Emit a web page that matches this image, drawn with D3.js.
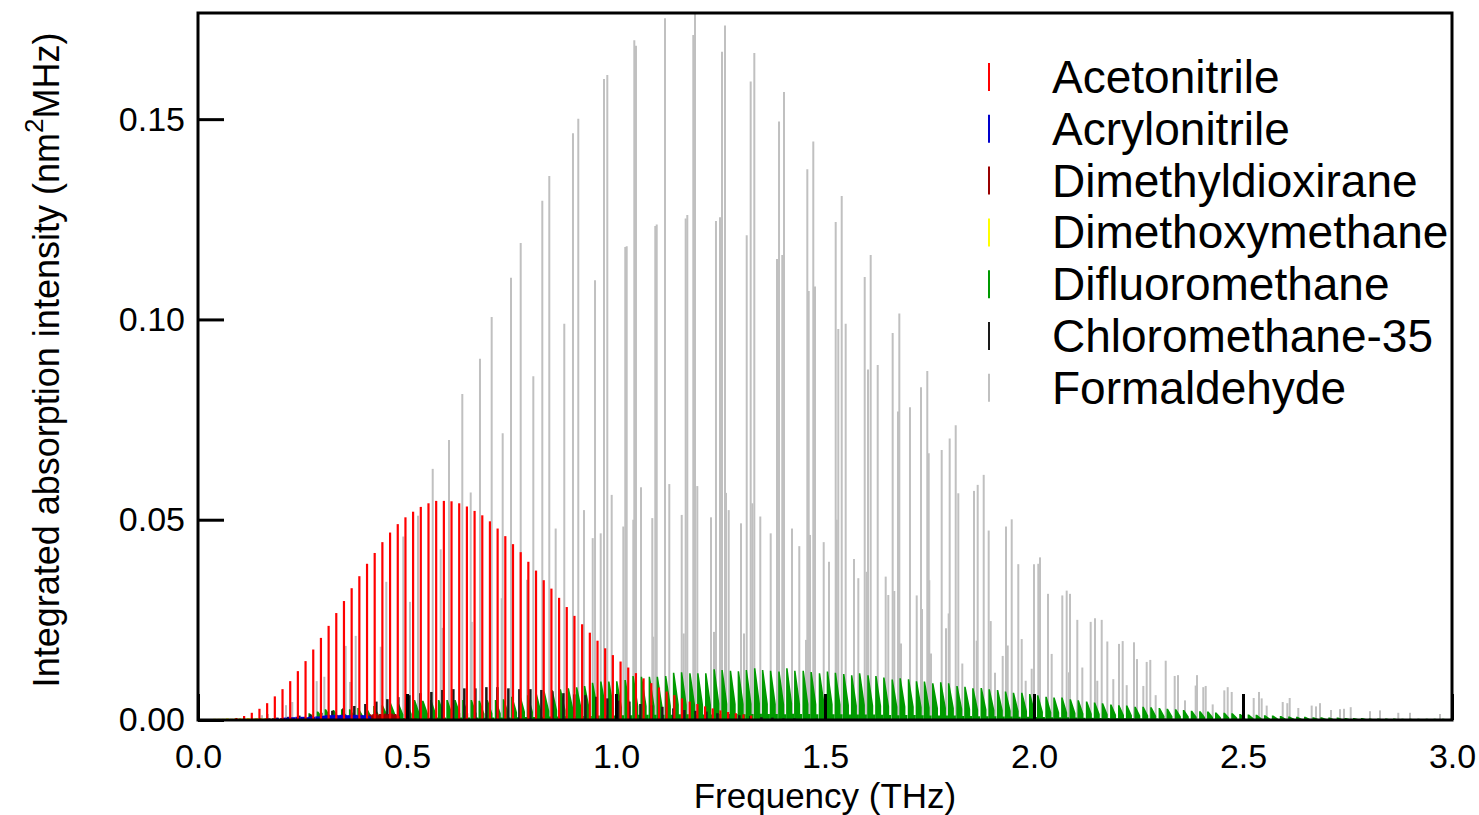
<!DOCTYPE html>
<html>
<head>
<meta charset="utf-8">
<script src="https://d3js.org/d3.v7.min.js"></script>
<style>
  body { margin: 0; background: #fff; }
  svg { display: block; font-family: "Liberation Sans", Arial, sans-serif; }
</style>
</head>
<body>
<div id="main"></div>
<script>
const ctx = {
    WIDTH: 1479,
    HEIGHT: 815,
    left: 198, right: 1452, top: 13, bottom: 720,
};

const xTicks = [0, 0.5, 1.0, 1.5, 2.0, 2.5, 3.0];
const yTicks = [0, 0.05, 0.10, 0.15];

const species = ["Acetonitrile", "Acrylonitrile", "Dimethyldioxirane", "Dimethoxymethane",
                 "Difluoromethane", "Chloromethane-35", "Formaldehyde"];
const speciesColors = ["#ff0000", "#0000cc", "#990000", "#ffff00", "#009900", "#1a1a1a", "#c0c0c0"];

// Acetonitrile (GHz, nm^2 MHz)
const acnFreq = [73.5, 91.9, 110.3, 128.7, 147.0, 165.4, 183.8, 202.2, 220.6, 238.9,
    257.3, 275.7, 294.1, 312.5, 330.8, 349.2, 367.6, 386.0, 404.4, 422.7,
    441.1, 459.5, 477.9, 496.3, 514.6, 533.0, 551.4, 569.8, 588.2, 606.5,
    624.9, 643.3, 661.7, 680.1, 698.4, 716.8, 735.2, 753.6, 772.0, 790.3,
    808.7, 827.1, 845.5, 863.9, 882.2, 900.6, 919.0, 937.4, 955.8, 974.1,
    992.5, 1010.9, 1029.3, 1047.7, 1066.0, 1084.4, 1102.8, 1121.2, 1139.6, 1157.9,
    1176.3, 1194.7, 1213.1, 1231.5, 1249.8, 1268.2, 1286.6, 1305.0, 1323.4];
const acnInt = [0.0002, 0.0005, 0.0010, 0.0018, 0.0028, 0.0042, 0.0059, 0.0077, 0.0097, 0.0122,
    0.0147, 0.0176, 0.0205, 0.0235, 0.0267, 0.0297, 0.0329, 0.0359, 0.0390, 0.0417,
    0.0444, 0.0468, 0.0489, 0.0506, 0.0520, 0.0532, 0.0541, 0.0547, 0.0547, 0.0546,
    0.0541, 0.0533, 0.0522, 0.0511, 0.0496, 0.0478, 0.0459, 0.0439, 0.0419, 0.0395,
    0.0373, 0.0349, 0.0328, 0.0305, 0.0282, 0.0260, 0.0239, 0.0218, 0.0198, 0.0179,
    0.0162, 0.0146, 0.0131, 0.0117, 0.0104, 0.0092, 0.0081, 0.0071, 0.0062, 0.0054,
    0.0046, 0.0040, 0.0034, 0.0029, 0.0024, 0.0020, 0.0017, 0.0014, 0.0011];

// Acrylonitrile (GHz)
const acrFreq = [90, 100, 110, 120, 130, 140, 150, 160, 170, 180, 190, 200, 206, 212, 218, 224,
    230, 236, 242, 248, 254, 260, 266, 272, 278, 284, 290, 296, 302, 307, 312, 317,
    322, 327, 332, 337, 342, 347, 352, 357, 362, 367, 372, 377, 382, 387, 392, 397, 402, 407, 411];
const acrInt = [0.0001, 0.0001, 0.0002, 0.0002, 0.0002, 0.0003, 0.0003, 0.0003, 0.0004, 0.0004, 0.0005, 0.0005, 0.0006, 0.0006, 0.0007, 0.0007,
    0.0007, 0.0008, 0.0007, 0.0008, 0.0008, 0.0007, 0.0008, 0.0009, 0.0008, 0.0009, 0.0009, 0.0010, 0.0011, 0.0012, 0.0011, 0.0012,
    0.0012, 0.0013, 0.0012, 0.0012, 0.0013, 0.0012, 0.0013, 0.0012, 0.0012, 0.0013, 0.0012, 0.0013, 0.0012, 0.0013, 0.0012, 0.0012, 0.0013, 0.0011, 0.0009];

// Dimethyldioxirane (GHz)
const dmdFreq = [412, 416, 420, 424, 428, 432, 436, 440, 444, 448, 452, 456, 460, 464, 468, 472, 476, 480,
    520, 585, 640, 700, 770, 850, 930, 1010, 1100, 1190, 1280];
const dmdInt = [0.0014, 0.0012, 0.0015, 0.0013, 0.0016, 0.0012, 0.0015, 0.0014, 0.0013, 0.0016, 0.0012, 0.0015, 0.0014, 0.0016, 0.0013, 0.0015, 0.0012, 0.0010,
    0.0004, 0.0003, 0.0005, 0.0004, 0.0003, 0.0004, 0.0003, 0.0003, 0.0003, 0.0002, 0.0002];

// Dimethoxymethane (GHz)
const dmmFreq = [20, 30, 40, 50, 60, 70, 80, 90, 100, 110, 120, 130, 140, 150, 160, 170, 180, 190,
    200, 210, 220, 230, 240, 250, 260, 270, 280, 290];
const dmmInt = [0.0002, 0.0002, 0.0003, 0.0003, 0.0003, 0.0004, 0.0003, 0.0004, 0.0004, 0.0004, 0.0005, 0.0004, 0.0005, 0.0005, 0.0004, 0.0005, 0.0005, 0.0004,
    0.0005, 0.0004, 0.0005, 0.0004, 0.0004, 0.0003, 0.0003, 0.0003, 0.0002, 0.0002];

// Difluoromethane band heads (GHz)
const dfmFreq = [264, 284, 303, 322, 342, 361, 381, 400, 419, 439, 458, 477, 497, 516, 536, 555, 574, 594,
    613, 632, 652, 671, 690, 710, 729, 749, 768, 787, 807, 826, 845, 865, 884, 904, 923, 942,
    962, 981, 1000, 1020, 1039, 1059, 1078, 1097, 1117, 1136, 1155, 1175, 1194, 1213, 1233, 1252,
    1272, 1291, 1310, 1330, 1349, 1368, 1388, 1407, 1426, 1446, 1465, 1485, 1504, 1523, 1543, 1562,
    1581, 1601, 1620, 1639, 1659, 1678, 1698, 1717, 1736, 1756, 1775, 1794, 1814, 1833, 1852, 1872,
    1891, 1911, 1930, 1949, 1969, 1988, 2007, 2027, 2046, 2065, 2085, 2104, 2124, 2143, 2162, 2182,
    2201, 2220, 2240, 2259, 2278, 2298, 2317, 2337, 2356, 2375, 2395, 2414, 2433, 2453, 2472, 2491,
    2511, 2530, 2550, 2569, 2588, 2608, 2627, 2646, 2666, 2685, 2704, 2724, 2743, 2763, 2782, 2801,
    2821, 2840, 2859, 2879, 2898, 2917, 2937, 2956, 2976, 2995];
const dfmInt = [0.0017, 0.0021, 0.0027, 0.0025, 0.0027, 0.0027, 0.0030, 0.0032, 0.0035, 0.0037, 0.0043, 0.0042, 0.0046, 0.0050, 0.0048, 0.0050, 0.0050, 0.0050,
    0.0050, 0.0050, 0.0050, 0.0048, 0.0050, 0.0050, 0.0052, 0.0058, 0.0062, 0.0062, 0.0067, 0.0071, 0.0075, 0.0077, 0.0079, 0.0082, 0.0085, 0.0093,
    0.0096, 0.0096, 0.0097, 0.0100, 0.0110, 0.0108, 0.0108, 0.0108, 0.0110, 0.0118, 0.0119, 0.0117, 0.0117, 0.0117, 0.0127, 0.0125,
    0.0123, 0.0122, 0.0125, 0.0129, 0.0125, 0.0123, 0.0121, 0.0129, 0.0123, 0.0123, 0.0120, 0.0117, 0.0121, 0.0118, 0.0115, 0.0112,
    0.0117, 0.0112, 0.0110, 0.0106, 0.0101, 0.0104, 0.0102, 0.0097, 0.0096, 0.0092, 0.0094, 0.0092, 0.0085, 0.0083, 0.0079, 0.0080,
    0.0077, 0.0075, 0.0071, 0.0068, 0.0068, 0.0065, 0.0062, 0.0058, 0.0056, 0.0056, 0.0052, 0.0049, 0.0046, 0.0044, 0.0042, 0.0039,
    0.0037, 0.0036, 0.0033, 0.0033, 0.0032, 0.0030, 0.0028, 0.0027, 0.0025, 0.0023, 0.0022, 0.0021, 0.0019, 0.0018, 0.0017, 0.0015,
    0.0014, 0.0013, 0.0012, 0.0011, 0.0010, 0.0009, 0.0008, 0.0008, 0.0007, 0.0007, 0.0006, 0.0006, 0.0005, 0.0005, 0.0005, 0.0004,
    0.0004, 0.0004, 0.0004, 0.0003, 0.0003, 0.0003, 0.0003, 0.0003, 0.0003, 0.0003];

// Chloromethane-35 (THz)
const cmFreq = [0.1108, 0.1372, 0.1635, 0.1898, 0.2161, 0.2424, 0.2688, 0.2951, 0.3214, 0.3477,
    0.3740, 0.4004, 0.4267, 0.4530, 0.4793, 0.5056, 0.5320, 0.5583, 0.5846, 0.6109,
    0.6372, 0.6636, 0.6899, 0.7162, 0.7425, 0.7688, 0.7952, 0.8215, 0.8478, 0.8741,
    0.9004, 0.9268, 0.9531, 0.9794, 1.0057, 1.0320, 1.0584, 1.0847, 1.1110, 1.1373,
    1.1636, 1.1900, 1.2163, 1.2426, 1.2689, 1.2952, 1.3216, 1.3479, 1.3742, 1.4005,
    1.4268, 1.4532, 1.4795, 1.5058, 1.5321, 1.5584];
const cmInt = [0.0002, 0.0003, 0.0004, 0.0006, 0.0008, 0.0011, 0.0014, 0.0018, 0.0023, 0.0029,
    0.0035, 0.0040, 0.0046, 0.0052, 0.0057, 0.0062, 0.0067, 0.0070, 0.0075, 0.0077,
    0.0079, 0.0079, 0.0082, 0.0082, 0.0079, 0.0077, 0.0077, 0.0075, 0.0072, 0.0067,
    0.0064, 0.0062, 0.0058, 0.0054, 0.0048, 0.0046, 0.0040, 0.0037, 0.0033, 0.0029,
    0.0025, 0.0023, 0.0021, 0.0017, 0.0015, 0.0012, 0.0010, 0.0007, 0.0006, 0.0004,
    0.0004, 0.0003, 0.0003, 0.0002, 0.0002, 0.0002];

// Formaldehyde (THz)
const fmFreq = [0.1005, 0.1531, 0.1675, 0.2105, 0.2256, 0.2840, 0.3022, 0.3533, 0.3636, 0.3773,
    0.4371, 0.4505, 0.4911, 0.5072, 0.5263, 0.5615, 0.5806, 0.5845, 0.6005, 0.6323,
    0.6524, 0.6548, 0.6746, 0.7026, 0.7266, 0.7289, 0.7488, 0.7720, 0.7871, 0.8022,
    0.8237, 0.8404, 0.8557, 0.8763, 0.8971, 0.9098, 0.9234, 0.9443, 0.9498, 0.9634,
    0.9713, 0.9792, 0.9897, 1.0175, 1.0222, 1.0256, 1.0414, 1.0438, 1.0478, 1.0598,
    1.0868, 1.0892, 1.0940, 1.0974, 1.1172, 1.1275, 1.1572, 1.1620, 1.1667, 1.1706,
    1.1849, 1.1890, 1.1945, 1.2273, 1.2344, 1.2392, 1.2488, 1.2536, 1.2608, 1.2632,
    1.2696, 1.2990, 1.3062, 1.3127, 1.3222, 1.3261, 1.3309, 1.3452, 1.3701, 1.3852,
    1.3900, 1.3978, 1.4019, 1.4211, 1.4385, 1.4545, 1.4577, 1.4610, 1.4641, 1.4720,
    1.4761, 1.4969, 1.5096, 1.5256, 1.5280, 1.5318, 1.5400, 1.5495, 1.5694, 1.5797,
    1.5950, 1.5998, 1.6029, 1.6093, 1.6261, 1.6452, 1.6514, 1.6619, 1.6658, 1.6746,
    1.6778, 1.6818, 1.7033, 1.7194, 1.7297, 1.7321, 1.7447, 1.7481, 1.7495, 1.7536,
    1.7792, 1.7895, 1.7959, 1.7983, 1.8127, 1.8189, 1.8285, 1.8565, 1.8629, 1.8653,
    1.8797, 1.8916, 1.8964, 1.9067, 1.9251, 1.9330, 1.9371, 1.9467, 1.9624, 1.9706,
    1.9801, 1.9945, 2.0000, 2.0103, 2.0144, 2.0335, 2.0423, 2.0677, 2.0782, 2.0837,
    2.0861, 2.1036, 2.1156, 2.1356, 2.1459, 2.1514, 2.1620, 2.1754, 2.1897, 2.2033,
    2.2122, 2.2218, 2.2392, 2.2464, 2.2615, 2.2696, 2.2782, 2.2911, 2.3151, 2.3366,
    2.3445, 2.3612, 2.3868, 2.3900, 2.4050, 2.4108, 2.4275, 2.4553, 2.4634, 2.4730,
    2.5256, 2.5383, 2.5447, 2.5567, 2.5950, 2.6060, 2.6117, 2.6323, 2.6643, 2.6746,
    2.6842, 2.7105, 2.7321, 2.7416, 2.7577, 2.8038, 2.8278, 2.8715, 2.8995, 2.9713];
const fmInt = [0.0005, 0.0012, 0.0015, 0.0037, 0.0045, 0.0097, 0.0108, 0.0185, 0.0095, 0.0210,
    0.0183, 0.0345, 0.0458, 0.0295, 0.0510, 0.0627, 0.0426, 0.0230, 0.0699, 0.0814,
    0.0568, 0.0245, 0.0902, 0.1006, 0.0304, 0.0716, 0.1104, 0.1191, 0.0350, 0.0858,
    0.1296, 0.1358, 0.0478, 0.0989, 0.1465, 0.1501, 0.0524, 0.0454, 0.1098, 0.0466,
    0.1600, 0.1610, 0.0562, 0.0483, 0.1181, 0.1183, 0.0500, 0.1697, 0.1683, 0.0581,
    0.0504, 0.0208, 0.1233, 0.1237, 0.1752, 0.0589, 0.0512, 0.0216, 0.1252, 0.1261,
    0.1710, 0.1764, 0.0584, 0.0506, 0.0220, 0.1246, 0.1255, 0.1668, 0.1734, 0.0567,
    0.0524, 0.0491, 0.0216, 0.1210, 0.1594, 0.0541, 0.1665, 0.0508, 0.0466, 0.1151,
    0.1494, 0.1161, 0.1568, 0.0478, 0.0434, 0.0200, 0.1375, 0.1071, 0.0462, 0.1444,
    0.1082, 0.0444, 0.0395, 0.1243, 0.0500, 0.0976, 0.1308, 0.0989, 0.0402, 0.0354,
    0.1106, 0.0370, 0.0875, 0.1161, 0.0886, 0.0358, 0.0312, 0.0966, 0.0322, 0.0770,
    0.1015, 0.0191, 0.0781, 0.0311, 0.0831, 0.0277, 0.0871, 0.0666, 0.0349, 0.0166,
    0.0674, 0.0229, 0.0266, 0.0703, 0.0736, 0.0566, 0.0141, 0.0572, 0.0198, 0.0587,
    0.0612, 0.0473, 0.0247, 0.0118, 0.0160, 0.0483, 0.0186, 0.0501, 0.0389, 0.0202,
    0.0098, 0.0128, 0.0389, 0.0390, 0.0406, 0.0315, 0.0165, 0.0311, 0.0323, 0.0119,
    0.0315, 0.0250, 0.0131, 0.0245, 0.0254, 0.0098, 0.0250, 0.0196, 0.0102, 0.0190,
    0.0197, 0.0087, 0.0194, 0.0152, 0.0085, 0.0145, 0.0150, 0.0062, 0.0148, 0.0110,
    0.0112, 0.0049, 0.0086, 0.0112, 0.0082, 0.0085, 0.0039, 0.0074, 0.0082, 0.0070,
    0.0055, 0.0070, 0.0054, 0.0036, 0.0045, 0.0042, 0.0055, 0.0030, 0.0036, 0.0034,
    0.0042, 0.0025, 0.0027, 0.0028, 0.0032, 0.0022, 0.0024, 0.0018, 0.0018, 0.0015];

const x = d3.scaleLinear().domain([0, 3]).range([ctx.left, ctx.right]);
const y = d3.scaleLinear().domain([0, 0.1765]).range([ctx.bottom, ctx.top]);

function drawSticks(g, freqs, ints, unit, color, width){
    g.selectAll("line")
        .data(d3.zip(freqs, ints))
        .enter()
        .append("line")
        .attr("x1", d => x(d[0] * unit))
        .attr("x2", d => x(d[0] * unit))
        .attr("y1", y(0))
        .attr("y2", d => y(d[1]))
        .attr("stroke", color)
        .attr("stroke-width", width);
}

// sawtooth glyph for each CH2F2 band head
function bandPath(d){
    const x0 = x(d[0] / 1000);
    const b = y(0);
    return `M${x0},${b}L${x0},${y(d[1])}L${x0 + 1.5},${y(d[1])}L${x0 + 6},${y(d[1] * 0.32)}`
         + `L${x0 + 6},${y(d[1] * 0.12)}L${x0 + 8},${y(d[1] * 0.12)}L${x0 + 8},${b}Z`;
}

function createViz(){
    const svg = d3.select("#main").append("svg")
        .attr("width", ctx.WIDTH)
        .attr("height", ctx.HEIGHT);

    svg.append("defs").append("clipPath").attr("id", "plotClip")
        .append("rect")
        .attr("x", ctx.left).attr("y", ctx.top)
        .attr("width", ctx.right - ctx.left).attr("height", ctx.bottom - ctx.top);

    const plot = svg.append("g").attr("clip-path", "url(#plotClip)");

    drawSticks(plot.append("g").attr("id", "formaldehyde"), fmFreq, fmInt, 1, speciesColors[6], 2);

    plot.append("g").attr("id", "difluoromethane")
        .selectAll("path")
        .data(d3.zip(dfmFreq, dfmInt))
        .enter()
        .append("path")
        .attr("d", bandPath)
        .attr("fill", speciesColors[4]);

    drawSticks(plot.append("g").attr("id", "chloromethane"), cmFreq, cmInt, 1, speciesColors[5], 2.5);
    drawSticks(plot.append("g").attr("id", "dimethoxymethane"), dmmFreq, dmmInt, 0.001, speciesColors[3], 3);
    drawSticks(plot.append("g").attr("id", "dimethyldioxirane"), dmdFreq, dmdInt, 0.001, speciesColors[2], 2.5);
    drawSticks(plot.append("g").attr("id", "acrylonitrile"), acrFreq, acrInt, 0.001, speciesColors[1], 2.6);
    drawSticks(plot.append("g").attr("id", "acetonitrile"), acnFreq, acnInt, 0.001, speciesColors[0], 2.2);

    // axes, ticks pointing inward
    const xAxis = d3.axisBottom(x).tickValues(xTicks).tickFormat(d3.format(".1f"))
        .tickSizeInner(-26).tickSizeOuter(0).tickPadding(24);
    const yAxis = d3.axisLeft(y).tickValues(yTicks).tickFormat(d3.format(".2f"))
        .tickSizeInner(-26).tickSizeOuter(0).tickPadding(13);

    const gx = svg.append("g").attr("transform", `translate(0,${ctx.bottom})`).call(xAxis);
    const gy = svg.append("g").attr("transform", `translate(${ctx.left},0)`).call(yAxis);
    [gx, gy].forEach(g => {
        g.select(".domain").remove();
        g.selectAll(".tick line").attr("stroke", "#000").attr("stroke-width", 3);
        g.selectAll(".tick text").attr("fill", "#000")
            .style("font-family", "'Liberation Sans', Arial, sans-serif")
            .style("font-size", "34px");
    });

    svg.append("rect")
        .attr("x", ctx.left).attr("y", ctx.top)
        .attr("width", ctx.right - ctx.left).attr("height", ctx.bottom - ctx.top)
        .attr("fill", "none").attr("stroke", "#000").attr("stroke-width", 3);

    svg.append("text")
        .attr("x", (ctx.left + ctx.right) / 2)
        .attr("y", 808)
        .attr("text-anchor", "middle")
        .style("font-size", "35px")
        .text("Frequency (THz)");

    const yTitle = svg.append("text")
        .attr("transform", "translate(59,360) rotate(-90)")
        .attr("text-anchor", "middle")
        .style("font-size", "36px");
    yTitle.append("tspan").text("Integrated absorption intensity (nm");
    yTitle.append("tspan").attr("dy", -16).style("font-size", "26px").text("2");
    yTitle.append("tspan").attr("dy", 16).text("MHz)");

    // legend
    const legend = svg.append("g").attr("id", "legend");
    const rows = legend.selectAll("g")
        .data(species)
        .enter()
        .append("g")
        .attr("transform", (d, i) => `translate(0,${77 + i * 51.8})`);
    rows.append("line")
        .attr("x1", 989).attr("x2", 989)
        .attr("y1", -14).attr("y2", 14)
        .attr("stroke", (d, i) => speciesColors[i])
        .attr("stroke-width", 2);
    rows.append("text")
        .attr("x", 1052).attr("y", 16)
        .style("font-size", "46px")
        .text(d => d);
}

createViz();
</script>
</body>
</html>
